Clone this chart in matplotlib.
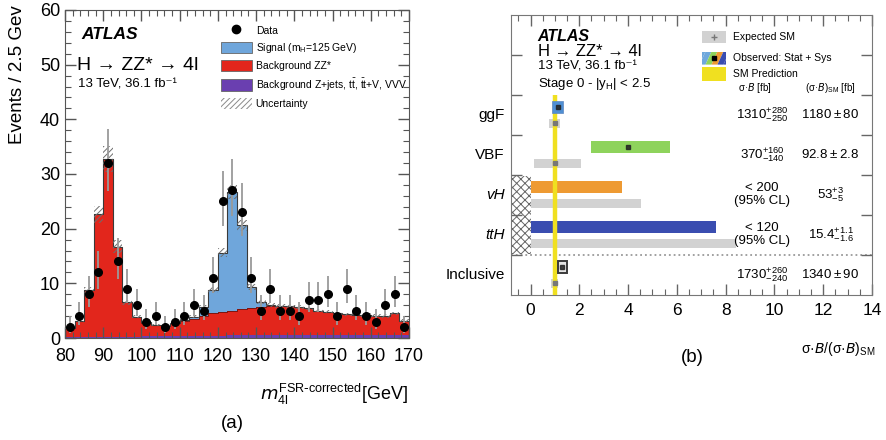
import numpy as np
import matplotlib
matplotlib.use('Agg')
import matplotlib.pyplot as plt
from matplotlib.patches import Rectangle, Polygon, Patch
from matplotlib.lines import Line2D
from matplotlib.ticker import MultipleLocator

plt.rcParams['font.family'] = ['Liberation Sans', 'DejaVu Sans']
plt.rcParams['mathtext.default'] = 'regular'
plt.rcParams['hatch.linewidth'] = 0.7

# ---------------- panel (a): m4l spectrum, 2.5 GeV bins from 80 to 170 ----------------
edges = np.arange(80, 170.01, 2.5)
data_counts = [2, 4, 8, 12, 32, 14, 9, 6, 3, 4, 2, 3, 4, 6, 5, 11, 25, 27,
               23, 11, 5, 9, 5, 5, 4, 7, 7, 8, 4, 9, 5, 4, 3, 6, 8, 2]
bkg_other = [0.15, 0.15, 0.2, 0.2, 0.25, 0.25, 0.25, 0.25, 0.3, 0.3, 0.3, 0.35,
             0.35, 0.4, 0.4, 0.45, 0.45, 0.5, 0.5, 0.55, 0.55, 0.55, 0.6, 0.6,
             0.6, 0.6, 0.6, 0.6, 0.6, 0.55, 0.55, 0.55, 0.55, 0.5, 0.5, 0.5]
bkg_zz = [1.65, 2.95, 8.6, 22.4, 32.5, 16.45, 6.25, 3.65, 2.5, 2.0, 1.9, 2.35,
          2.75, 3.0, 3.7, 4.05, 4.35, 4.5, 4.8, 4.95, 5.15, 5.25, 5.2, 5.2,
          5.1, 4.8, 4.4, 4.2, 3.9, 3.75, 3.65, 3.65, 3.55, 3.5, 4.0, 2.7]
signal = [0, 0, 0, 0, 0, 0, 0, 0, 0.05, 0.05, 0.05, 0.05,
          0.15, 0.5, 1.6, 4.3, 10.8, 21.7, 15.3, 3.8, 0.9, 0.3, 0.1, 0.05,
          0, 0, 0, 0, 0, 0, 0, 0, 0, 0, 0, 0]
band_halfwidth = [0.2, 0.25, 0.6, 1.6, 2.3, 1.2, 0.45, 0.3, 0.2, 0.2, 0.2, 0.2,
                  0.25, 0.25, 0.35, 0.55, 0.8, 1.3, 1.0, 0.5, 0.35, 0.35, 0.35, 0.35,
                  0.35, 0.35, 0.3, 0.3, 0.3, 0.3, 0.3, 0.3, 0.3, 0.3, 0.3, 0.25]

# ---------------- panel (b): cross sections relative to SM ----------------
categories = ['ggF', 'VBF', 'vH', 'ttH', 'Inclusive']
cat_italic = [False, False, True, True, False]
obs_lo = [0.90, 2.48, 0.0, 0.0, 1.11]
obs_hi = [1.35, 5.71, 3.77, 7.60, 1.48]
obs_mu = [1.11, 3.99, np.nan, np.nan, 1.29]
exp_lo = [0.76, 0.15, 0.0, 0.0, 0.82]
exp_hi = [1.20, 2.08, 4.54, 8.44, 1.13]
exp_mu = [1.0, 1.0, np.nan, np.nan, 1.0]
obs_colors = ['#4f8fd3', '#8ed35c', '#ee9a32', '#3a4db0', '#e4e4e4']
xs_text = [r'$1310^{+280}_{-250}$', r'$370^{+160}_{-140}$', '< 200\n(95% CL)',
           '< 120\n(95% CL)', r'$1730^{+260}_{-240}$']
xs_sm_text = [r'$1180 \pm 80$', r'$92.8 \pm 2.8$', r'$53^{+3}_{-5}$',
              r'$15.4^{+1.1}_{-1.6}$', r'$1340 \pm 90$']

c_red = '#e2261c'
c_blue = '#6fa6db'
c_purple = '#6a3fb0'

W, H = 886, 440
fig = plt.figure(figsize=(W / 100, H / 100), dpi=100)


def box(x0, y0, x1, y1):
    # pixel box (origin top left) -> figure fraction rect
    return [x0 / W, 1 - y1 / H, (x1 - x0) / W, (y1 - y0) / H]


# ======================= (a) =======================
ax1 = fig.add_axes(box(65, 10, 409, 338))
other = np.array(bkg_other)
lvl_zz = other + np.array(bkg_zz)
lvl_sig = lvl_zz + np.array(signal)
centers = 0.5 * (edges[:-1] + edges[1:])

ax1.stairs(other, edges, baseline=0, fill=True, color=c_purple, zorder=1)
ax1.stairs(lvl_zz, edges, baseline=other, fill=True, color=c_red, zorder=1)
ax1.stairs(lvl_sig, edges, baseline=lvl_zz, fill=True, color=c_blue, zorder=1)
ax1.stairs(lvl_zz, edges, color='#6b1410', lw=0.6, zorder=2)
ax1.stairs(lvl_sig, edges, color='#3a3a3a', lw=0.8, zorder=2)

bw = np.array(band_halfwidth)
ax1.bar(centers, 2 * bw, bottom=lvl_sig - bw, width=2.5, fill=False,
        hatch='//////', edgecolor='#6e6e6e', lw=0, zorder=3)

n = np.array(data_counts, dtype=float)
err_lo = np.sqrt(n + 0.25) - 0.5
err_hi = np.sqrt(n + 0.25) + 0.5
ax1.errorbar(centers, n, yerr=[err_lo, err_hi], fmt='o', color='black', ms=5.5,
             ecolor='#9a9a9a', elinewidth=1.3, capsize=0, zorder=4)

ax1.set_xlim(80, 170)
ax1.set_ylim(0, 60)
ax1.xaxis.set_major_locator(MultipleLocator(10))
ax1.xaxis.set_minor_locator(MultipleLocator(2))
ax1.yaxis.set_major_locator(MultipleLocator(10))
ax1.yaxis.set_minor_locator(MultipleLocator(2))
ax1.tick_params(which='both', direction='in', top=True, right=True,
                labelsize=13, color='#555555')
ax1.tick_params(which='major', length=8, width=1.0)
ax1.tick_params(which='minor', length=4, width=0.8)
ax1.tick_params(axis='x', pad=7)
for s in ax1.spines.values():
    s.set_color('#555555')

ax1.text(0.049, 0.925, 'ATLAS', transform=ax1.transAxes, fontsize=12.5,
         fontweight='bold', style='italic', va='center')
ax1.text(0.035, 0.832, 'H → ZZ* → 4l', transform=ax1.transAxes,
         fontsize=14, va='center')
ax1.text(0.038, 0.772, '13 TeV, 36.1 fb⁻¹', transform=ax1.transAxes,
         fontsize=9.5, va='center')

handles = [
    Line2D([], [], marker='o', ls='none', color='black', ms=6),
    Patch(facecolor=c_blue, edgecolor='#666666', lw=0.6),
    Patch(facecolor=c_red, edgecolor='#666666', lw=0.6),
    Patch(facecolor=c_purple, edgecolor='#666666', lw=0.6),
    Patch(facecolor='white', edgecolor='#8a8a8a', hatch='//////', lw=0),
]
labels = ['Data', 'Signal (m$_{H}$=125 GeV)', 'Background ZZ*',
          r'Background Z+jets, t$\bar{t}$, $\bar{t}$t+V, VVV', 'Uncertainty']
ax1.legend(handles, labels, loc='upper left', bbox_to_anchor=(0.453, 0.955),
           frameon=False, fontsize=7.5, handlelength=3.0, handleheight=1.3,
           labelspacing=0.48, handletextpad=0.35, borderpad=0, borderaxespad=0)

fig.text(18 / W, 1 - 5 / H, 'Events / 2.5 Gev', rotation=90, ha='center',
         va='top', fontsize=13.5)
fig.text(408 / W, 1 - 400 / H,
         r'$\mathit{m}_{4l}^{FSR\text{-}corrected}$[GeV]', ha='right',
         va='baseline', fontsize=13)
fig.text(232 / W, 1 - 423 / H, '(a)', ha='center', va='center', fontsize=13.5)

# ======================= (b) =======================
ax2 = fig.add_axes(box(511, 15, 872, 295))
rows = np.array([4.5, 3.5, 2.5, 1.5, 0.5])
olo, ohi = np.array(obs_lo), np.array(obs_hi)
elo, ehi = np.array(exp_lo), np.array(exp_hi)

ax2.add_patch(Rectangle((-0.8, 1.03), 0.8, 1.94, fill=False, hatch='xxxx',
                        edgecolor='#666666', lw=0, zorder=1))
ax2.barh(rows - 0.21, ehi - elo, left=elo, height=0.21, color='#d2d2d2', zorder=2)
big = np.array([False, True, True, True, False])
ax2.barh(rows[big] + 0.19, (ohi - olo)[big], left=olo[big], height=0.3,
         color=np.array(obs_colors)[big], zorder=2)
ax2.plot([1, 1], [0, 5], color='#f0e020', lw=3.2, zorder=3,
         solid_capstyle='butt')
ax2.barh(rows[~big] + 0.19, (ohi - olo)[~big], left=olo[~big], height=0.3,
         color=np.array(obs_colors)[~big],
         edgecolor=['#5d86bf', '#3a3a3a'], lw=[0.5, 1.4], zorder=4)
ax2.plot(exp_mu, rows - 0.21, ls='none', marker='s', ms=2.2, color='#777777',
         zorder=5)
ax2.plot(obs_mu, rows + 0.19, ls='none', marker='s', ms=2.4, color='#222222',
         alpha=0.85, zorder=5)
ax2.axhline(1, color='#9a9a9a', ls=':', lw=1.3, zorder=1)

ax2.set_xlim(-0.8, 14)
ax2.set_ylim(0, 7)
ax2.xaxis.set_major_locator(MultipleLocator(2))
ax2.xaxis.set_minor_locator(MultipleLocator(0.5))
ax2.set_yticks([1, 2, 3, 4, 5, 6])
ax2.set_yticklabels([])
ax2.tick_params(which='both', direction='in', top=True, right=True,
                labelsize=12.5, color='#666666')
ax2.tick_params(which='major', length=8, width=1.0)
ax2.tick_params(which='minor', length=4, width=0.8)
ax2.tick_params(axis='x', pad=6)
for s in ax2.spines.values():
    s.set_color('#777777')

for r, name, it in zip(rows, categories, cat_italic):
    ax2.text(-1.05, r, name, ha='right', va='center', fontsize=11,
             style='italic' if it else 'normal')

for r, t1, t2 in zip(rows, xs_text, xs_sm_text):
    ax2.text(9.5, r + 0.02, t1, ha='center', va='center', fontsize=9.5,
             linespacing=1.15)
    ax2.text(12.3, r + 0.02, t2, ha='center', va='center', fontsize=9.5)

ax2.text(9.2, 5.17, r'σ·$\mathit{B}$ [fb]', ha='center', va='center', fontsize=7)
ax2.text(12.3, 5.17, r'(σ·$\mathit{B}$)$_{SM}$ [fb]', ha='center', va='center',
         fontsize=7)

ax2.text(0.29, 6.47, 'ATLAS', fontsize=11.5, fontweight='bold', style='italic',
         va='center')
ax2.text(0.29, 6.08, 'H → ZZ* → 4l', fontsize=12, va='center')
ax2.text(0.29, 5.71, '13 TeV, 36.1 fb⁻¹', fontsize=9.5, va='center')
ax2.text(0.29, 5.27, 'Stage 0 - |y$_{H}$| < 2.5', fontsize=9.5, va='center')

# legend of panel (b), drawn by hand
sx0, sx1 = 7.05, 8.03
ax2.add_patch(Rectangle((sx0, 6.29), sx1 - sx0, 0.30, color='#d2d2d2', lw=0))
ax2.plot([0.5 * (sx0 + sx1)], [6.44], marker='+', ms=4, color='#777777', mew=1)
clip = Rectangle((sx0, 5.76), sx1 - sx0, 0.32, fill=False, lw=0)
ax2.add_patch(clip)
stripe_colors = ['#6fa8dc', '#6fa8dc', '#8ed35c', '#ee9a32', '#3a4db0', '#3a4db0']
sw = (sx1 - sx0) / 4
for i, c in zip(range(-1, 5), stripe_colors):
    p = Polygon([(sx0 + i * sw - 0.12, 5.76), (sx0 + (i + 1) * sw - 0.12, 5.76),
                 (sx0 + (i + 1) * sw + 0.12, 6.08), (sx0 + i * sw + 0.12, 6.08)],
                closed=True, color=c, lw=0)
    ax2.add_patch(p)
    p.set_clip_path(clip)
ax2.plot([0.5 * (sx0 + sx1)], [5.92], marker='s', ms=3, color='black')
ax2.add_patch(Rectangle((sx0, 5.35), sx1 - sx0, 0.34, color='#f0e020', lw=0))
ax2.text(8.3, 6.44, 'Expected SM', fontsize=7.5, va='center')
ax2.text(8.3, 5.93, 'Observed: Stat + Sys', fontsize=7.5, va='center')
ax2.text(8.3, 5.53, 'SM Prediction', fontsize=7.5, va='center')

fig.text(875 / W, 1 - 349 / H, r'σ·$\mathit{B}$/(σ·$\mathit{B}$)$_{SM}$',
         ha='right', va='center', fontsize=10)
fig.text(692 / W, 1 - 357 / H, '(b)', ha='center', va='center', fontsize=13.5)

fig.savefig('out.png', dpi=100)
